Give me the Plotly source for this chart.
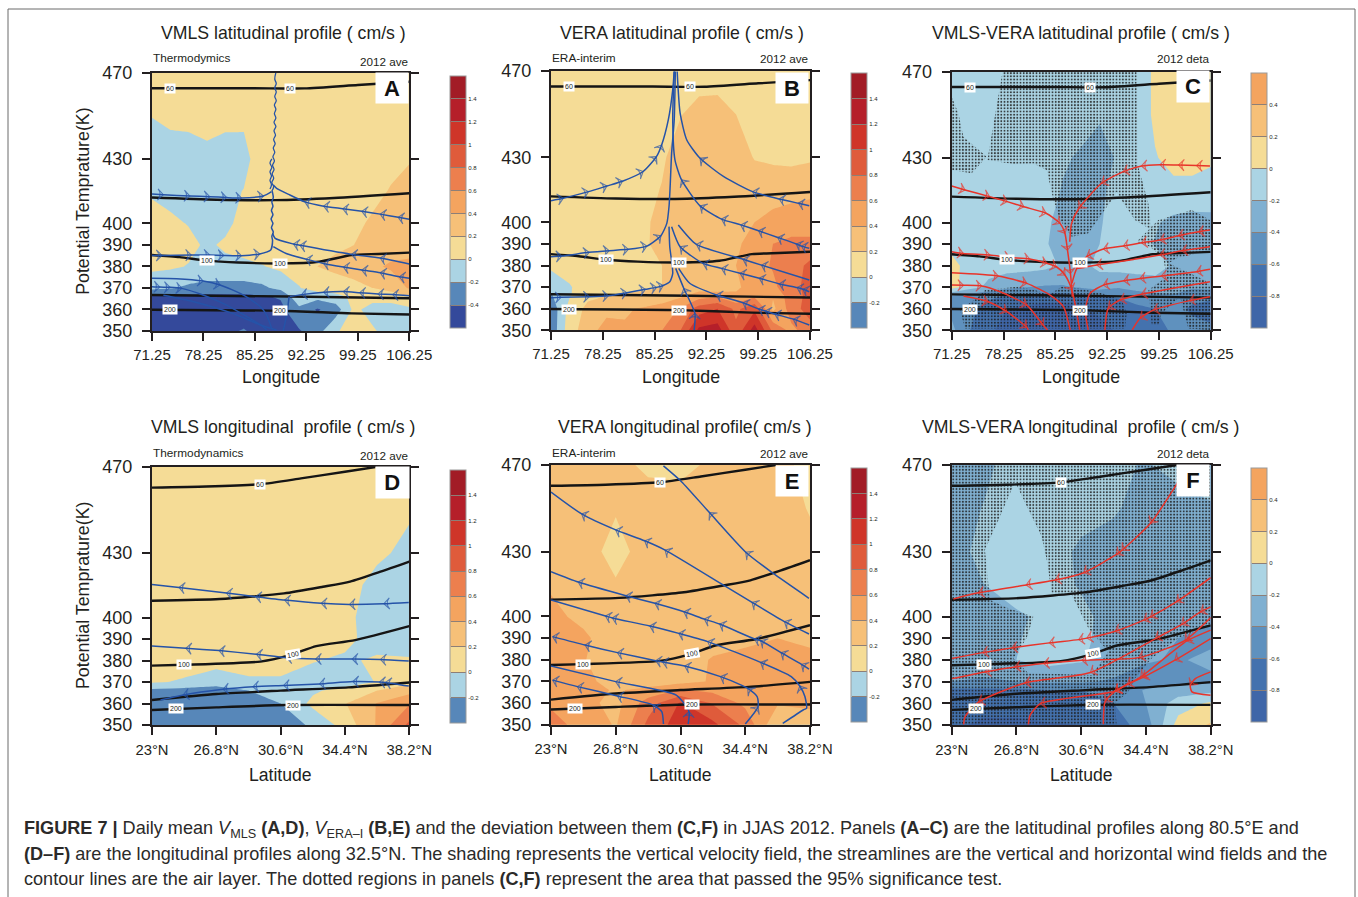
import plotly.graph_objects as go

W, H = 1358, 897
FONT = "Liberation Sans"
INK = "#231f20"

# ---------- axes data ----------
LON = [71.25, 73.75, 76.25, 78.75, 81.25, 83.75, 86.25, 88.75, 91.25, 93.75, 96.25, 98.75, 101.25, 103.75, 106.25]
LAT = [23, 24.9, 26.8, 28.7, 30.6, 32.5, 34.4, 36.3, 38.2]
THETA = [350, 360, 366, 370, 380, 390, 400, 415, 430, 450, 470]
Y_TICKS = [350, 360, 370, 380, 390, 400, 430, 470]
LON_TICKS = [71.25, 78.25, 85.25, 92.25, 99.25, 106.25]
LON_TICK_TEXT = ["71.25", "78.25", "85.25", "92.25", "99.25", "106.25"]
LAT_TICKS = [23, 26.8, 30.6, 34.4, 38.2]
LAT_TICK_TEXT = ["23°N", "26.8°N", "30.6°N", "34.4°N", "38.2°N"]

# ---------- shaded vertical velocity (rows follow THETA) ----------
Z_A = [
 [-.5,-.5,-.5,-.5,-.45,-.38,-.5,-.5,-.42,-.28,-.02,.08,.03,-.1,-.02],
 [-.5,-.55,-.55,-.55,-.55,-.55,-.55,-.45,-.25,-.42,-.3,.05,-.08,-.1,-.05],
 [-.42,-.45,-.45,-.45,-.45,-.45,-.42,-.38,-.05,-.12,-.07,.05,.08,.1,.2],
 [-.15,-.18,-.24,-.27,-.27,-.27,-.24,-.14,-.01,.09,.12,.15,.2,.27,.42],
 [.05,.03,-.01,-.05,-.05,-.05,-.01,.04,.08,.2,.24,.28,.36,.43,.44],
 [.06,.05,.05,-.03,.03,.08,.1,.1,.12,.13,.17,.2,.24,.3,.33],
 [.06,.04,-.01,-.05,-.05,.07,.1,.1,.1,.12,.14,.17,.22,.26,.28],
 [-.02,-.07,-.08,-.08,-.08,.01,.1,.1,.1,.1,.11,.12,.16,.21,.25],
 [-.1,-.1,-.08,-.05,-.08,-.1,.18,.1,.1,.1,.1,.1,.12,.16,.19],
 [.005,.05,.05,.07,.05,.06,.08,.08,.08,.08,.08,.08,.08,.08,.08],
 [.08,.08,.08,.08,.08,.08,.08,.08,.08,.08,.08,.08,.08,.08,.08],
]
Z_B = [
 [-.35,.12,.3,.5,.42,.5,.6,.8,1.25,1.3,.85,1.3,.75,.55,.7],
 [-.35,.08,.25,.33,.38,.42,.48,.62,.9,1.0,.75,.95,.35,.7,.9],
 [-.22,-.02,.16,.2,.22,.24,.28,.36,.5,.55,.42,.55,.42,.72,.85],
 [-.1,-.02,.12,.13,.15,.17,.2,.28,.3,.22,.38,.45,.55,.75,.85],
 [.03,.1,.12,.13,.14,.18,.2,.27,.3,.33,.4,.52,.62,.7,.85],
 [.1,.1,.1,.1,.1,.18,.24,.27,.29,.3,.37,.47,.6,.65,.65],
 [.1,.1,.1,.1,.1,.17,.25,.28,.3,.33,.36,.4,.47,.5,.5],
 [.1,.1,.1,.1,.1,.14,.21,.3,.33,.33,.33,.31,.3,.33,.36],
 [.1,.1,.1,.1,.1,.12,.17,.3,.3,.3,.3,.19,.17,.15,.17],
 [.1,.1,.1,.1,.1,.1,.1,.19,.27,.28,.2,.14,.12,.12,.12],
 [.1,.1,.1,.1,.1,.1,.1,.1,.1,.1,.1,.1,.1,.1,.1],
]
Z_C = [
 [-.35,-.6,-.75,-.9,-.95,-.95,-.95,-.9,-.95,-.75,-.7,-.72,-.55,-.5,-.55],
 [-.45,-.55,-.7,-.8,-.85,-.9,-.9,-.85,-.7,-.72,-.65,-.6,-.5,-.65,-.7],
 [-.4,-.5,-.55,-.62,-.65,-.68,-.68,-.65,-.6,-.58,-.5,-.45,-.42,-.5,-.55],
 [.08,-.12,-.25,-.35,-.4,-.42,-.42,-.38,-.32,-.38,-.32,-.28,-.32,-.38,-.35],
 [.08,-.1,-.12,-.12,-.12,-.15,-.22,-.25,-.15,-.12,-.12,-.13,-.22,-.25,-.2],
 [-.08,-.1,-.1,-.1,-.1,-.17,-.3,-.28,-.2,-.12,-.14,-.21,-.28,-.3,-.28],
 [-.1,-.1,-.1,-.1,-.1,-.15,-.28,-.32,-.22,-.1,-.1,-.18,-.25,-.28,-.27],
 [-.1,-.1,-.1,-.1,-.1,-.13,-.21,-.26,-.24,-.13,-.08,-.05,-.04,-.04,-.05],
 [-.12,-.12,-.12,-.12,-.12,-.12,-.18,-.22,-.27,-.18,-.1,-.01,.05,.05,.02],
 [-.12,-.12,-.12,-.12,-.12,-.12,-.12,-.14,-.18,-.15,-.1,.03,.1,.1,.1],
 [-.1,-.1,-.1,-.1,-.1,-.1,-.1,-.1,-.1,-.1,-.1,.03,.1,.1,.1],
]
Z_D = [
 [-.35,-.35,-.35,-.35,-.3,-.17,.08,.42,.85],
 [-.35,-.35,-.35,-.35,-.2,.05,.19,.41,.58],
 [-.25,-.28,-.3,-.2,-.12,-.03,.07,.2,.33],
 [.02,-.02,-.1,-.03,-.03,-.08,-.1,.01,.15],
 [.1,.08,.07,.08,.08,.01,-.03,.03,.02],
 [.1,.1,.1,.1,.1,.08,.05,-.08,-.1],
 [.1,.1,.1,.1,.1,.08,.03,-.06,-.1],
 [.1,.1,.1,.1,.1,.08,.06,-.05,-.1],
 [.1,.1,.1,.1,.1,.1,.1,.03,-.04],
 [.1,.1,.1,.1,.1,.1,.1,.1,.02],
 [.1,.1,.1,.1,.1,.1,.1,.1,.1],
]
Z_E = [
 [.65,.55,.38,.85,1.1,1.05,.75,.22,.35],
 [.58,.47,.33,.7,1.02,.78,.55,.42,.42],
 [.5,.48,.38,.45,.62,.55,.48,.45,.45],
 [.5,.45,.33,.3,.33,.42,.45,.48,.45],
 [.5,.41,.3,.3,.28,.42,.45,.47,.45],
 [.5,.43,.3,.3,.3,.3,.36,.4,.36],
 [.44,.36,.28,.27,.27,.27,.27,.28,.28],
 [.38,.28,.21,.27,.27,.27,.27,.27,.27],
 [.27,.25,.16,.25,.25,.25,.25,.25,.24],
 [.25,.25,.21,.25,.25,.25,.25,.27,.19],
 [.25,.25,.23,.18,.17,.22,.25,.25,.15],
]
Z_F = [
 [-.75,-.85,-.85,-.82,-.8,-.7,-.5,.08,.22],
 [-.7,-.7,-.7,-.65,-.65,-.6,-.4,-.1,.03],
 [-.65,-.65,-.65,-.6,-.6,-.55,-.38,-.3,-.25],
 [-.4,-.42,-.4,-.38,-.38,-.42,-.5,-.45,-.45],
 [-.33,-.32,-.2,-.13,-.18,-.3,-.38,-.42,-.35],
 [-.32,-.32,-.22,-.1,-.16,-.28,-.32,-.4,-.45],
 [-.3,-.3,-.25,-.12,-.15,-.28,-.33,-.35,-.37],
 [-.3,-.2,-.04,-.12,-.22,-.28,-.3,-.32,-.33],
 [-.28,-.14,-.03,-.1,-.24,-.3,-.32,-.32,-.32],
 [-.3,-.19,-.05,-.1,-.12,-.17,-.3,-.3,-.22],
 [-.3,-.25,-.1,-.15,-.15,-.15,-.22,-.12,-.1],
]

# ---------- air-layer contours ----------
LAYERS_LON = [
 ([71.25,85,92,99.25,106.25],[462.8,462.8,462.7,464.3,465.8]),
 ([71.25,80,88,96,106.25],[412,411,410.8,411.8,414]),
 ([71.25,75,78.7,83,88.6,94,98.4,102,106.25],[385.3,384.3,382.7,381.8,381.4,382.2,385.3,385.8,386.4]),
 ([71.25,90,106.25],[366.7,366,365.2]),
 ([71.25,88.6,98.4,106.25],[359.9,359.4,358.2,357.7]),
]
LAYERS_LAT = [
 ([23,26.2,29.4,31.8,34.4,36.2],[460.4,460.9,462,464.7,467.8,470]),
 ([23,27,30.8,33.1,34.7,36.5,38.2],[407.8,408.6,411.2,414.3,416.7,421.3,426]),
 ([23,24.9,29.4,31.2,32.7,35,38.2],[377.6,378,379.5,382.6,386.7,389.5,396]),
 ([23,26.8,30.6,34.6,38.2],[361.6,364.4,366,367.5,369.8]),
 ([23,26.8,31,38.2],[357,358.2,359.3,359.3]),
]
LABELS_LON = [("60",73.7,462.8),("60",90,462.7),("100",78.7,382.7),("100",88.6,381.4),("200",73.7,359.9),("200",88.6,359.4)]
LABELS_LAT = [("60",29.4,462),("100",24.9,378),("100",31.3,382.9),("200",24.4,357.5),("200",31.3,359.3)]

# ---------- streamlines: longitude or latitude, theta, vertices carrying an arrow ----------
STREAMS_A = [
 ([71.25,72.8,76.4,79.1,81.4,83.4,86.4,87.5],[413.6,413.3,412.7,412.4,412,411.8,412.7,414.7],[1,2,3,4,5,6]),
 ([106.25,104.75,102.3,99.8,97.2,94.6,92.05,90,88.2,87.75],[401.9,402.8,404.3,405.6,406.8,408,410,413.2,416.3,417.8],[1,2,3,4,5,6]),
 ([106.25,102.3,98.4,91.4,90.5,88,87.65],[381.1,383.9,385.6,389.8,390.4,393,395.4],[1,2,3,4]),
 ([106.25,104.9,102.3,99.8,97.3,94.6,92.2,89.5,87.75],[374.5,375.2,377.1,378.3,379.7,381.4,383.4,386,389.2],[1,2,3,4,5,6]),
 ([71.25,72.6,76.6,79.1,81,83.4,85.9,87.4,87.65,87.55,87.75,87.5,87.7,87.45,87.7,87.5,87.7,87.55,87.75,87.6],
  [385.1,385.1,385.3,385.3,385.1,385,385.8,387.6,392,394,396,398,400,402,404,406,408,410,412,415],[1,2,3,4,5,6]),
 ([106.25,104,102,99.5,97.3,94.6,91.6,90],[366.4,366.9,367.2,367.8,368.3,368,366.9,366],[1,2,3,4,5,6]),
 ([71.25,74.6,78.2,80.5,83.7,86,86.85,87.6],[374.5,374.3,373.2,371.4,366.7,361.3,357.4,350.5],[2,3]),
 ([71.25,72.3,73.7,75.3,78.2,81.4,86,86.85],[370.6,370.4,370.3,369.8,366.7,362,352.8,350.5],[1,2,3]),
 ([72.8,76.8,82.2,86,88.2],[366.6,363.7,358.2,352.8,350.5],[]),
 ([89.1,89.6,89.9],[350,358,366],[]),
]
WAVE_T = [415,417,419,421,423,425,427,429,431,433,435,437,439,441,443,445,447,449,451,453,455,457,459,461,463,465,467,470]
WAVE_LON = [87.55,87.8,87.55,87.8,87.6,87.85,87.65,87.9,87.7,87.95,87.75,88.0,87.8,88.05,87.85,88.1,87.85,88.1,87.9,88.1,87.9,88.15,87.95,88.15,87.95,88.15,87.95,88.1]
WAVE2_T = [416,418,420,422,424,426,428,430]
WAVE2_LON = [87.3,87.5,87.3,87.5,87.3,87.55,87.3,87.55]
STREAMS_B = [
 ([71.25,72.9,76.3,78.8,80.9,83.7,85.5,86.2,87.1,87.7,87.9],[410,411.1,414.2,416.8,419,423.5,430.4,435.8,447.4,461.3,469.8],[1,2,3,4,5,6,7]),
 ([71.25,72.7,76.4,79.1,81.7,84.2,86.1,86.9,87.2,87.35,87.55,87.9,88.05],[384.1,384.4,386.1,386.9,387.5,389,393.8,399.5,407.3,416.5,432,447.4,469.8],[1,2,3,4,5,6]),
 ([71.25,72.6,76.4,79,81.5,84,85.5,86.4,87.3,87.7,87.3,87.2],[365.1,365.3,365.6,366,367.4,369,369.9,370.8,372.5,376.4,388.7,398],[1,2,3,4,5,6,7]),
 ([106.15,104.7,102.1,98.5,94.6,91.4,89.6,88.7,88.3],[407.7,408.8,410.8,414.2,421.1,429.6,438.1,450.5,469.8],[1,2,3,5]),
 ([106.15,105.1,104.4,101.9,99.3,96.9,94.3,91.4,88.9,88,87.7,87.9],[388,389,390,393,396.1,398.8,401.5,407.6,419.6,428.9,447.4,469.8],[1,2,3,4,5,6,7,8]),
 ([106.15,99.7,97.2,90.9,88.45],[373.3,380.2,382.9,389.8,398.8],[1,2,3]),
 ([106.15,105.3,104.5,102.1,99.4,96.8,94.3,91.8,88.7,87.55],[367.9,369,369.8,371.5,374.1,376.4,378.7,381,388.7,398],[1,2,3,4,5,6,7,8]),
 ([106.15,104,101.5,100.2,99.3,97.2,93.6,90,88.5],[352.5,355.2,357.6,359,359.9,362.8,366.4,371.8,378.7],[1,2,3,4,5,6]),
 ([90.6,90.7,89.2,88.1],[350.2,357.9,369.4,378.7],[1,2]),
]
STREAMS_C = [
 ([71.25,73.05,76.35,78.75,81,84,85.9,86.55,86.9,87.3,87.55],[416.9,415.1,412,409.7,407.3,404.3,399.6,395,387.2,376.4,365.6],[1,2,3,4,5,6,7,8,9]),
 ([106.15,104.35,101.9,99.4,96.9,94.45,91.5,88.45,87.45,87.2],[426.2,426.4,426.7,426.8,426.2,423.6,418.2,406.6,399.6,391.1],[1,2,3,4,5,6,7]),
 ([71.25,72.8,76.4,79.1,81.8,84.1,85.4,86.55,87.5,88.55],[386.5,385.7,384.9,383.8,383.1,381.1,379.5,375.7,368.7,350.2],[1,2,3,4,5,6,7,8]),
 ([106.15,104.6,101.9,99.4,96.9,94.45,91.75,89.5,88.15,87.5],[396.5,395.7,393.9,391.9,390.6,389.1,387.7,384.2,378.7,371.8],[1,2,3,4,5,6,7,8]),
 ([106.15,102.35,99.4,95.8,90.85,88.15],[388.8,386.9,384.9,382.9,380.3,378.7],[1,2,4]),
 ([106.15,104.35,99.6,96.7,94.5,91.75,89.95,89.3,89.7],[378.3,377.2,375.2,374.1,373,371,367.2,359.4,350.2],[1,2,3,4,5]),
 ([106.15,96.9,94,92.4,91.95],[372.6,366.8,364.1,360.2,350.2],[1,2,3]),
 ([106.15,103.4,98.5,96.7,95.65],[365.6,363.8,359.4,355.6,350.2],[1,2,3]),
 ([71.25,77.55,81.4,84.55,86.35,87.25],[376.7,375.2,371.8,366.4,361,350.2],[1,2]),
 ([71.25,72.85,75.3,77.8,81.4,83.6,84.2],[371,370.9,370.6,367.9,361.7,352.5,350.2],[1,2,4,5]),
 ([72.85,76.2,78.7,81.4,81.6],[365.9,363.3,358.7,351.4,350.2],[1,2,3]),
]
STREAMS_D = [
 ([38.17,36.7,34.67,33,30.84,29.13,27.4,24.6,23],[407,406.4,406.1,406.6,408.1,409.7,411.4,414,415.4],[1,2,3,4,5,6,7]),
 ([38.17,36.5,34.83,32.67,30.94,29.17,26.97,25,23],[379.8,380.5,380.7,380.7,381.3,382.9,384.6,385.7,386.7],[1,2,3,4,5,6,7]),
 ([38.17,36.8,36.44,34.87,32.9,30.78,28.97,27.2,24.85,23.5],[368.1,369.8,370,370.2,369.1,368.4,367.8,366.6,364,361.6],[1,2,3,4,5,6,7,8]),
]
STREAMS_E = [
 ([38.14,36.03,34.43,32.3,30.66,29.6],[408.4,420,429.7,448,462.3,469.6],[2,3]),
 ([38.14,36.7,34.8,33.1,29.7,28.5,26.8,24.8,23],[391.9,397.6,406.5,414.6,430.7,435,440,447.4,457.5],[1,2,4,5,6,7]),
 ([38.14,37.7,36.5,35.3,34.95,32.9,32,30.8,29.1,27.4,24.6,23],[375.7,377.9,383.3,388.8,389.6,396.5,398.8,402.2,406.1,409.6,415.9,420.7],[1,2,3,4,5,6,7,8,9,10]),
 ([36.6,37.8,38,37.9,37.6,37.1,35.3,32.2,30.5,28.8,26.6,26.2,23],[350.6,356.8,357.6,363,367.9,372.2,378.8,388.4,392.2,395.6,399.3,400.2,407.6],[4,6,7,8,9,10,11]),
 ([34.4,35.15,35.1,34.55,34.2,32.95,30.85,29.55,29.15,26.9,25,23.1],[350.3,358.3,362.9,366.8,368.2,372.2,377.1,379,379.6,383.3,386.8,390.7],[1,3,5,6,7,8,9,10,11]),
 ([31.05,31.1,30.35,26.8,23],[350.3,356,363.7,369.9,377.1],[1,3]),
 ([29.6,29.5,29,26.9,24.55,23.1],[350.3,356,359.1,363.3,367.6,370.6],[2,3,4,5]),
]
STREAMS_F = [
 ([36.3,34.67,33,32.67,30.75,29.08,27.37,24.57,23.1],[462.3,443.1,430.7,428.7,420.3,416.9,414.6,411,408.2],[1,2,3,4,5,6,7]),
 ([38.2,36.2,34.67,34.27,32.6,30.94,30.45,28.73,26.53,24.82,23],[418,406.9,399.9,398.4,393.3,390.1,389.4,387.9,385.6,383.4,380.7],[1,2,3,4,5,6,7,8,9]),
 ([38.2,36.7,34,30.65,28.4,26.7,24.96,23],[399.6,389.1,381.1,379.9,378.4,376.8,374.5,371.4],[1,2,3,4,5,6]),
 ([38.2,37.6,36.5,34.96,31.14,27.3,24.57,23.78,23.7],[404.5,402.2,396.4,389.9,374.2,369.4,360.6,353.7,350.3],[1,2,3,4,5,6]),
 ([38.2,36.1,34.2,33.3,32.6,28.2,27.6,27.5],[389.9,379.9,371.9,368.8,365.6,359.9,354.5,350.3],[1,2,3,4,5]),
 ([38.2,36.8,34.1,32.6,32,31.9],[393.8,388.8,372.2,365.6,360.6,350.3],[1,2,3,4]),
 ([38.2,37.3,37,37.1,38.2],[374.5,371.4,368.3,365.3,363.7],[2]),
]

# ---------- 95% significance regions (dotted) ----------
SIG_C = [
 ([78.23,96.25,96.34,97.83,98.28,96,94.2,93.55,92.87,89.72,87.47,85.89,84.99,84.09,82.29,79.58,76.07,78],
  [469.9,469.9,427.4,408.9,396.5,401.2,410.4,414.3,410.4,395,393.4,401.2,410.4,424.3,427.4,427.1,429,467.6]),
 ([71.25,72.15,72.83,75.98,73.95,71.25],[458.3,450.6,439.8,430.5,422.8,424.3]),
 ([96.25,99.18,103.68,106.16,106.16,101.65,100.53,105.48,106.16,106.16,103.23,102.1,99.63,99.18,98.28,97.83,100.3,99.85,98.05],
  [391.1,401.2,405.8,401.2,387.2,383.4,381.1,373.3,370.2,350.2,350.9,365.6,357.9,352.5,352.5,368.7,374.9,383.4,388.8]),
 ([75.75,80.26,82.51,84.31,86.11,88.37,91.52,94.22,94.9,94.67,73.05,72.38,74.85],
  [368.7,370.2,368.7,366.4,370.2,369.5,367.2,364.1,357.9,350.9,350.9,359.4,365.6]),
]
SIG_F = [
 ([23,38.2,38.2,36.3,34.74,33.76,33.37,32.58,32.68,23,23,
   26.71,25.83,24.95,25.25,26.32,27.79,27.4,26.62,27.5,31.22,32.19,31.02,30.04,28.87,28.58,28.28,27.5,26.71,23],
  [470,470,396.1,390,380.8,371.6,365.4,360,350,350,462.3,
   462.3,446.1,430.8,407.7,403.9,400,390,380.8,373.9,373.1,383.8,394.6,410,410.8,426.1,436.9,449.2,462.3,462.3]),
]

# ---------- colours ----------
WARM = ["#f5dc96", "#f6c078", "#f4a45f", "#ec7f4e", "#df5b3b", "#cf3529", "#b51f2a", "#a21c26"]
COLORS_A = ["#34499b", "#5787b9", "#abd4e4"] + WARM
COLORS_B = ["#5787b9", "#abd4e4"] + WARM
COLORS_C = ["#3f66a8", "#4472ae", "#5f91be", "#80b0d1", "#abd4e4", "#f5dc96", "#f6c078", "#f4a45f"]


def scale(colors):
    n = len(colors) - 1
    return [[i / n, c] for i, c in enumerate(colors)]


def ticks(start, end):
    out, text = [], []
    k = round(start * 5)
    while k <= round(end * 5):
        v = k / 5
        out.append(v)
        text.append(("%g" % v))
        k += 1
    return out, text


PANELS = [
 dict(key="A", z=Z_A, xs=LON, left=152, right=409.3, top=72.7, bottom=331, colors=COLORS_A, start=-.4, end=1.4, bar=(450, 76, 328),
      stream=STREAMS_A, col="#2553a8", sig=None, layers=LAYERS_LON, labels=LABELS_LON, box=(375, 72, 30, 28),
      title="VMLS latitudinal profile ( cm/s )", tx=283, ty=33, left_note="Thermodymics", note="2012 ave", nx=410, ny=61, lny=58),
 dict(key="B", z=Z_B, xs=LON, left=551, right=810, top=71, bottom=330.4, colors=COLORS_B, start=-.2, end=1.4, bar=(851, 73, 328),
      stream=STREAMS_B, col="#2553a8", sig=None, layers=LAYERS_LON, labels=LABELS_LON, box=(775, 72, 30, 28),
      title="VERA latitudinal profile ( cm/s )", tx=682, ty=33, left_note="ERA-interim", note="2012 ave", nx=810, ny=59, lny=58),
 dict(key="C", z=Z_C, xs=LON, left=951.7, right=1210.7, top=71.5, bottom=330.4, colors=COLORS_C, start=-.8, end=.4, bar=(1251, 73, 328),
      stream=STREAMS_C, col="#e8342a", sig=SIG_C, layers=LAYERS_LON, labels=LABELS_LON, box=(1176, 70, 30, 29),
      title="VMLS-VERA latitudinal profile ( cm/s )", tx=1081, ty=33, left_note=None, note="2012 deta", nx=1211, ny=59, lny=58),
 dict(key="D", z=Z_D, xs=LAT, left=152, right=409.3, top=467, bottom=725, colors=COLORS_B, start=-.2, end=1.4, bar=(450, 470, 722.7),
      stream=STREAMS_D, col="#2553a8", sig=None, layers=LAYERS_LAT, labels=LABELS_LAT, box=(374.5, 466, 30.5, 29),
      title="VMLS longitudinal  profile ( cm/s )", tx=283, ty=427, left_note="Thermodynamics", note="2012 ave", nx=410, ny=455, lny=453),
 dict(key="E", z=Z_E, xs=LAT, left=551, right=810, top=465, bottom=724.7, colors=COLORS_B, start=-.2, end=1.4, bar=(851, 468, 722),
      stream=STREAMS_E, col="#2553a8", sig=None, layers=LAYERS_LAT, labels=LABELS_LAT, box=(775, 465, 30, 28),
      title="VERA longitudinal profile( cm/s )", tx=685, ty=427, left_note="ERA-interim", note="2012 ave", nx=810, ny=453, lny=453),
 dict(key="F", z=Z_F, xs=LAT, left=951.7, right=1210.7, top=465, bottom=725, colors=COLORS_C, start=-.8, end=.4, bar=(1251, 468, 722),
      stream=STREAMS_F, col="#e8342a", sig=SIG_F, layers=LAYERS_LAT, labels=LABELS_LAT, box=(1176, 464, 30, 29),
      title="VMLS-VERA longitudinal  profile ( cm/s )", tx=1081, ty=427, left_note=None, note="2012 deta", nx=1211, ny=453, lny=453),
]

CAPTION = [
 ("<b>FIGURE 7 |</b> Daily mean <i>V</i><sub>MLS</sub> <b>(A,D)</b>, <i>V</i><sub>ERA–I</sub> <b>(B,E)</b> and the deviation between them <b>(C,F)</b> in JJAS 2012. Panels <b>(A–C)</b> are the latitudinal profiles along 80.5°E and", 829),
 ("<b>(D–F)</b> are the longitudinal profiles along 32.5°N. The shading represents the vertical velocity field, the streamlines are the vertical and horizontal wind fields and the", 854),
 ("contour lines are the air layer. The dotted regions in panels <b>(C,F)</b> represent the area that passed the 95% significance test.", 879),
]

fig = go.Figure()
annots = []
shapes = [dict(type="rect", xref="paper", yref="paper", x0=8 / W, x1=1355 / W, y0=-0.02, y1=1 - 9 / H,
               line=dict(color="#6b6b6b", width=1), fillcolor="rgba(0,0,0,0)", layer="below")]
layout = {}


def paper_text(text, px, py, size, xanchor="center", color=INK, **kw):
    annots.append(dict(text=text, x=px / W, y=1 - py / H, xref="paper", yref="paper", xanchor=xanchor, yanchor="middle",
                       showarrow=False, font=dict(family=FONT, size=size, color=color), **kw))


for i, p in enumerate(PANELS, start=1):
    xa, ya = f"x{i}", f"y{i}"
    xs = p["xs"]
    is_lon = xs is LON
    layout[f"xaxis{i}"] = dict(
        domain=[p["left"] / W, p["right"] / W], range=[xs[0], xs[-1]], anchor=ya,
        tickvals=LON_TICKS if is_lon else LAT_TICKS, ticktext=LON_TICK_TEXT if is_lon else LAT_TICK_TEXT,
        ticks="outside", ticklen=8, tickwidth=2, tickcolor=INK, showline=True, linecolor=INK, linewidth=2, mirror=True,
        showgrid=False, zeroline=False, tickfont=dict(family=FONT, size=15 if is_lon else 14.8, color=INK), tickangle=0,
        ticklabelstandoff=1 if is_lon else 2)
    layout[f"yaxis{i}"] = dict(
        domain=[1 - p["bottom"] / H, 1 - p["top"] / H], range=[350, 470], anchor=xa,
        tickvals=Y_TICKS, ticks="outside", ticklen=8, tickwidth=2, tickcolor=INK, showline=True, linecolor=INK, linewidth=2,
        mirror="ticks", showgrid=False, zeroline=False, tickfont=dict(family=FONT, size=18, color=INK), ticklabelstandoff=6)

    bx, bt, bb = p["bar"]
    vals, text = ticks(p["start"], p["end"])
    fig.add_trace(go.Contour(
        x=xs, y=THETA, z=p["z"], xaxis=xa, yaxis=ya, colorscale=scale(p["colors"]),
        zauto=False, zmin=p["start"] - .2, zmax=p["end"] + .2,
        autocontour=False, contours=dict(start=p["start"], end=p["end"], size=.2, coloring="fill", showlines=False),
        line=dict(width=0), line_smoothing=0, hoverinfo="skip",
        colorbar=dict(x=bx / W, xanchor="left", y=1 - (bt + bb) / 2 / H, yanchor="middle", xpad=0, ypad=0,
                      len=bb - bt, lenmode="pixels", thickness=15.5, thicknessmode="pixels",
                      tickvals=vals, ticktext=text, ticks="inside", ticklen=15, tickwidth=0.6, tickcolor="#8d7f77",
                      outlinecolor="#999999", outlinewidth=1, tickfont=dict(family=FONT, size=6, color=INK))))

    if p["sig"]:
        for sx, sy in p["sig"]:
            fig.add_trace(go.Scatter(
                x=sx + sx[:1], y=sy + sy[:1], xaxis=xa, yaxis=ya, mode="lines", line=dict(width=0), fill="toself",
                fillcolor="rgba(0,0,0,0)", hoverinfo="skip", showlegend=False,
                fillpattern=dict(shape=".", size=3.2, solidity=0.3, fgcolor="#1c1c1c", fgopacity=0.8, bgcolor="rgba(0,0,0,0)")))

    for lx, ly in p["layers"]:
        fig.add_trace(go.Scatter(x=lx, y=ly, xaxis=xa, yaxis=ya, mode="lines", cliponaxis=True, hoverinfo="skip", showlegend=False,
                                 line=dict(color="#151515", width=2.4, shape="spline", smoothing=0.6)))

    streams = list(p["stream"])
    for sx, sy, arrows in streams:
        sizes = [8 if k in arrows and k > 0 else 0 for k in range(len(sx))]
        fig.add_trace(go.Scatter(x=sx, y=sy, xaxis=xa, yaxis=ya, mode="lines+markers", hoverinfo="skip", showlegend=False,
                                 line=dict(color=p["col"], width=1.5, shape="spline", smoothing=0.6),
                                 marker=dict(symbol="arrow-wide-open", size=sizes, angleref="previous", color=p["col"],
                                             line=dict(color=p["col"], width=1.1))))
    if p["key"] == "A":
        for wx, wy in ((WAVE_LON, WAVE_T), (WAVE2_LON, WAVE2_T)):
            fig.add_trace(go.Scatter(x=wx, y=wy, xaxis=xa, yaxis=ya, mode="lines", hoverinfo="skip", showlegend=False,
                                     line=dict(color=p["col"], width=1.3, shape="spline", smoothing=1)))

    for t, lx, ly in p["labels"]:
        angle = -10 if (t == "100" and lx == 31.3) else 0
        annots.append(dict(text=t, x=lx, y=ly, xref=xa, yref=ya, showarrow=False, bgcolor="white", textangle=angle,
                           borderpad=1, font=dict(family=FONT, size=7, color=INK)))

    bxl, bxt, bw, bh = p["box"]
    annots.append(dict(text=f"<b>{p['key']}</b>", x=bxl / W, y=1 - bxt / H, xref="paper", yref="paper", xanchor="left", yanchor="top",
                       width=bw, height=bh, bgcolor="white", showarrow=False, align="center", valign="middle",
                       font=dict(family=FONT, size=22, color="#111111")))

    paper_text(p["title"], p["tx"], p["ty"], 17.7)
    if p["left_note"]:
        paper_text(p["left_note"], p["left"] - 1, p["lny"], 11.8, xanchor="left")
    paper_text(p["note"], p["nx"], p["ny"], 11.7, xanchor="right")
    cx = (p["left"] + p["right"]) / 2
    if is_lon:
        paper_text("Longitude", cx, 377, 17.8)
    else:
        paper_text("Latitude", cx, 775, 17.6)
    if p["key"] in "AD":
        annots.append(dict(text="Potential Temprature(K)", x=83 / W, y=1 - ((p["top"] + p["bottom"]) / 2) / H, xref="paper", yref="paper",
                           textangle=-90, showarrow=False, xanchor="center", yanchor="middle", font=dict(family=FONT, size=17.8, color=INK)))

for text, py in CAPTION:
    paper_text(text, 22, py, 18.1, xanchor="left", color="#2b2a29", align="left")

fig.update_layout(width=W, height=H, autosize=False, margin=dict(l=0, r=0, t=0, b=0, pad=0, autoexpand=False), paper_bgcolor="white", plot_bgcolor="white",
                  showlegend=False, annotations=annots, shapes=shapes, font=dict(family=FONT), **layout)
fig.write_html("out.html", include_plotlyjs=True, config=dict(displayModeBar=False),
               post_script="document.body.style.margin='0';document.body.style.overflow='hidden';")
